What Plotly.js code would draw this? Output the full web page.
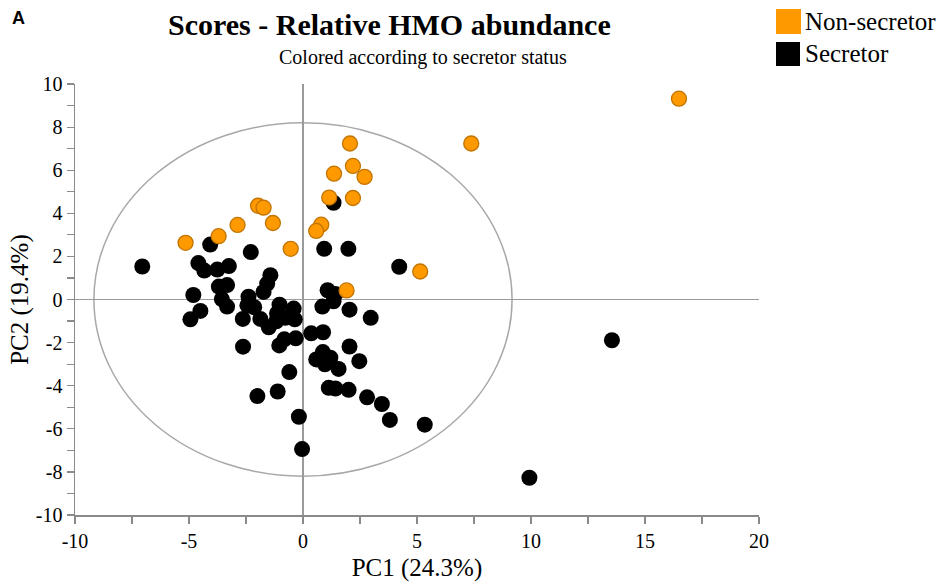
<!DOCTYPE html>
<html>
<head>
<meta charset="utf-8">
<script src="https://cdn.plot.ly/plotly-3.0.1.min.js"></script>
<style>
  html, body { margin: 0; padding: 0; background: #fff; }
  #chart { width: 940px; height: 586px; }
</style>
</head>
<body>
<div id="chart"></div>
<script>
// ---- Data ----
const groupNames = ["Non-secretor", "Secretor"];

const pc1NonSecretor = [16.49, 7.38, 2.06, 2.19, 1.36, 2.70, 1.15, 2.19, -1.97, -1.73,
  -1.32, -2.87, 0.80, 0.58, -3.70, -5.15, -0.54, 5.14, 1.91];
const pc2NonSecretor = [9.32, 7.24, 7.24, 6.20, 5.84, 5.69, 4.73, 4.71, 4.35, 4.26,
  3.55, 3.46, 3.47, 3.18, 2.94, 2.63, 2.35, 1.30, 0.42];

const pc1Secretor = [1.34, -4.07, -2.29, 0.93, 1.99, 4.22, -7.05, -4.59, -4.33, -3.76,
  -3.25, -1.43, -1.57, -1.73, -3.69, -3.33, -4.81, -3.56, -3.33, -2.39,
  -2.44, -2.14, -4.50, -4.94, -2.64, -1.87, -1.50, -1.03, -1.14, -0.41,
  -0.78, -0.36, -1.17, -0.82, -1.04, -0.32, -2.63, -0.60, -1.11, -2.00,
  -0.18, -0.04, 1.08, 1.42, 0.85, 1.34, 2.04, 2.97, 0.36, 0.88,
  2.04, 2.47, 0.58, 0.87, 1.20, 0.96, 1.56, 1.13, 1.42, 2.00,
  2.81, 3.46, 3.81, 5.34, 13.55, 9.93];
const pc2Secretor = [4.49, 2.55, 2.20, 2.35, 2.35, 1.52, 1.53, 1.69, 1.34, 1.39,
  1.55, 1.13, 0.74, 0.35, 0.60, 0.67, 0.21, 0.02, -0.33, 0.13,
  -0.27, -0.36, -0.53, -0.92, -0.90, -0.90, -1.29, -0.24, -0.65, -0.42,
  -0.85, -0.92, -1.01, -1.85, -2.13, -1.80, -2.19, -3.37, -4.27, -4.48,
  -5.44, -6.94, 0.43, 0.25, -0.33, -0.08, -0.47, -0.85, -1.57, -1.52,
  -2.18, -2.86, -2.78, -2.44, -2.70, -3.01, -3.22, -4.10, -4.13, -4.19,
  -4.54, -4.85, -5.59, -5.81, -1.89, -8.27];

// Hotelling T2 ellipse semi-axes (PC1, PC2)
const ellipseRadii = [9.17, 8.2];

const xTickValues = [-10, -5, 0, 5, 10, 15, 20];
const xTickLabels = ["-10", "-5", "0", "5", "10", "15", "20"];
const yTickValues = [-10, -8, -6, -4, -2, 0, 2, 4, 6, 8, 10];
const yTickLabels = ["-10", "-8", "-6", "-4", "-2", "0", "2", "4", "6", "8", "10"];

const xRange = [-10, 20];
const yRange = [-10, 10];
const xAxisTitle = "PC1 (24.3%)";
const yAxisTitle = "PC2 (19.4%)";
const chartTitle = "Scores - Relative HMO abundance";
const chartSubtitle = "Colored according to secretor status";
const panelLabel = "A";

// ---- Styling / layout ----
const W = 940, H = 586;
const M = { l: 75, r: 181, t: 84, b: 71 };
const plotW = W - M.l - M.r, plotH = H - M.t - M.b;
// convert page pixel position to paper coordinates (relative to plot area)
const px = (x) => (x - M.l) / plotW;
const py = (y) => (H - M.b - y) / plotH;

const orange = "#ff9900";
const orangeEdge = "#c27400";
const serif = "Liberation Serif, Times New Roman, serif";

const traces = [
  {
    type: "scatter", mode: "markers", name: groupNames[1],
    x: pc1Secretor, y: pc2Secretor, showlegend: false,
    marker: { color: "#000", size: 16, line: { width: 0 } },
    hoverinfo: "x+y"
  },
  {
    type: "scatter", mode: "markers", name: groupNames[0],
    x: pc1NonSecretor, y: pc2NonSecretor, showlegend: false,
    marker: { color: orange, size: 15, line: { width: 1.3, color: orangeEdge } },
    hoverinfo: "x+y"
  }
];

const axisCommon = {
  showgrid: false,
  zeroline: true,
  zerolinecolor: "#9a9a9a",
  zerolinewidth: 1.6,
  showline: true,
  linecolor: "#8a8a8a",
  linewidth: 1.5,
  ticks: "outside",
  ticklen: 7,
  tickwidth: 1.2,
  tickcolor: "#8a8a8a",
  tickfont: { family: serif, size: 20, color: "#000" },
  mirror: false,
  fixedrange: true,
  tickmode: "array"
};

const layout = {
  width: W, height: H,
  margin: { l: M.l, r: M.r, t: M.t, b: M.b, pad: 0 },
  paper_bgcolor: "#fff", plot_bgcolor: "#fff",
  showlegend: false,
  xaxis: Object.assign({}, axisCommon, {
    range: xRange, tickvals: xTickValues, ticktext: xTickLabels,
    minor: { dtick: 2.5, tick0: 0, ticks: "outside", ticklen: 7, tickcolor: "#8a8a8a", tickwidth: 1.2 },
    title: { text: xAxisTitle, font: { family: serif, size: 25, color: "#000" }, standoff: 8 }
  }),
  yaxis: Object.assign({}, axisCommon, {
    range: yRange, tickvals: yTickValues, ticktext: yTickLabels,
    minor: { dtick: 1, tick0: 0, ticks: "outside", ticklen: 7, tickcolor: "#8a8a8a", tickwidth: 1.2 },
    title: { text: yAxisTitle, font: { family: serif, size: 25, color: "#000" }, standoff: 0 }
  }),
  shapes: [
    {
      type: "circle", xref: "x", yref: "y", layer: "below",
      x0: -ellipseRadii[0], x1: ellipseRadii[0],
      y0: -ellipseRadii[1], y1: ellipseRadii[1],
      line: { color: "#a8a8a8", width: 1.5 }
    },
    // legend swatches
    { type: "rect", xref: "paper", yref: "paper",
      x0: px(776), x1: px(801), y0: py(34), y1: py(9),
      fillcolor: orange, line: { width: 0 } },
    { type: "rect", xref: "paper", yref: "paper",
      x0: px(776), x1: px(800), y0: py(66), y1: py(42),
      fillcolor: "#000", line: { width: 0 } }
  ],
  annotations: [
    { text: "<b>" + chartTitle + "</b>", xref: "paper", yref: "paper",
      x: px(389), y: py(24), xanchor: "center", yanchor: "middle",
      showarrow: false, font: { family: serif, size: 30, color: "#000" } },
    { text: chartSubtitle, xref: "paper", yref: "paper",
      x: px(423), y: py(58), xanchor: "center", yanchor: "middle",
      showarrow: false, font: { family: serif, size: 20, color: "#000" } },
    { text: "<b>" + panelLabel + "</b>", xref: "paper", yref: "paper",
      x: px(18), y: py(18), xanchor: "center", yanchor: "middle",
      showarrow: false, font: { family: "Liberation Sans, Arial, sans-serif", size: 18, color: "#000" } },
    { text: groupNames[0], xref: "paper", yref: "paper",
      x: px(803), y: py(22), xanchor: "left", yanchor: "middle",
      showarrow: false, font: { family: serif, size: 25, color: "#000" } },
    { text: groupNames[1], xref: "paper", yref: "paper",
      x: px(803), y: py(54), xanchor: "left", yanchor: "middle",
      showarrow: false, font: { family: serif, size: 25, color: "#000" } }
  ]
};

Plotly.newPlot("chart", traces, layout, { displayModeBar: false, staticPlot: true });
</script>
</body>
</html>
